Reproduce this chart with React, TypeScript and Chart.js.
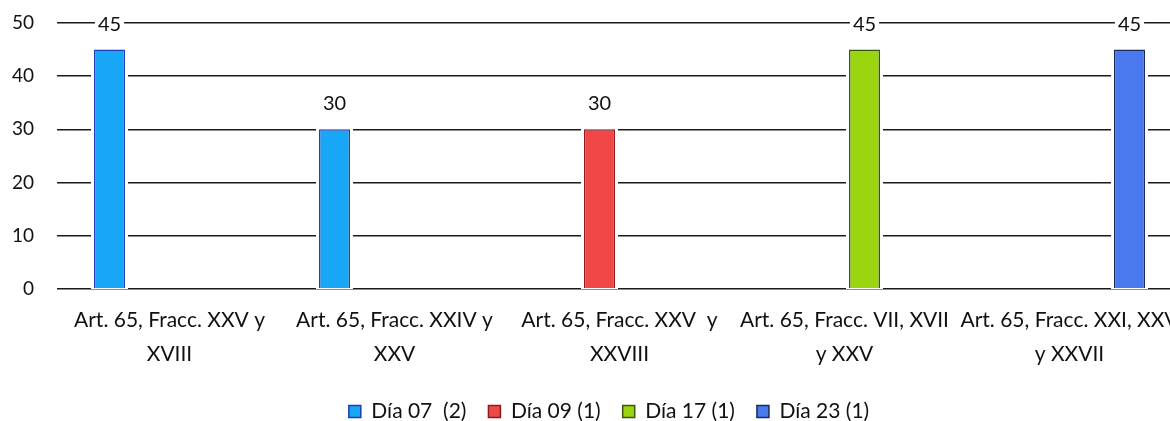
import React, { useEffect, useRef } from "react";
import { Chart, registerables } from "chart.js";

Chart.register(...registerables);

const categories: string[][] = [
  ["Art. 65, Fracc. XXV y", "XVIII"],
  ["Art. 65, Fracc. XXIV y", "XXV"],
  ["Art. 65, Fracc. XXV  y", "XXVIII"],
  ["Art. 65, Fracc. VII, XVII", "y XXV"],
  ["Art. 65, Fracc. XXI, XXV", "y XXVII"],
];

const seriesNames = ["Día 07  (2)", "Día 09 (1)", "Día 17 (1)", "Día 23 (1)"];
const dia07 = [45, 30, null, null, null];
const dia09 = [null, null, 30, null, null];
const dia17 = [null, null, null, 45, null];
const dia23 = [null, null, null, null, 45];

const yTicks = [0, 10, 20, 30, 40, 50];

const fills = ["#18a6f6", "#f24747", "#9bd50f", "#4a79ee"];
const borders = ["#1d3fb5", "#8e1b1b", "#3b5512", "#1b2a5e"];

const FONT = "Lato, 'Open Sans', sans-serif";

const barDecor = {
  id: "barDecor",
  afterLayout(chart: any) {
    const lg = chart.legend;
    if (lg) {
      lg.top += 1;
      lg.bottom += 1;
      lg.left += 18;
      lg.right += 18;
    }
  },
  beforeDatasetsDraw(chart: any) {
    const ctx = chart.ctx;
    ctx.save();
    ctx.fillStyle = "#ffffff";
    chart.data.datasets.forEach((ds: any, i: number) => {
      const meta = chart.getDatasetMeta(i);
      meta.data.forEach((el: any, j: number) => {
        if (ds.data[j] == null) return;
        const w = el.width;
        ctx.fillRect(el.x - w / 2 - 3, el.y - 2, w + 6, el.base - el.y + 3);
      });
    });
    ctx.restore();
  },
  afterDatasetsDraw(chart: any) {
    const ctx = chart.ctx;
    ctx.save();
    ctx.font = `20px ${FONT}`;
    ctx.textAlign = "center";
    ctx.textBaseline = "middle";
    chart.data.datasets.forEach((ds: any, i: number) => {
      const meta = chart.getDatasetMeta(i);
      meta.data.forEach((el: any, j: number) => {
        const v = ds.data[j];
        if (v == null) return;
        const txt = String(v);
        const tw = ctx.measureText(txt).width;
        const cy = el.y - 25.5;
        ctx.fillStyle = "#ffffff";
        ctx.fillRect(el.x - tw / 2 - 3, cy - 9, tw + 6, 18);
        ctx.fillStyle = "#111111";
        ctx.fillText(txt, el.x, cy);
      });
    });
    ctx.restore();
  },
};

export default function App() {
  const canvasRef = useRef<HTMLCanvasElement | null>(null);

  useEffect(() => {
    document.body.style.margin = "0";
    const canvas = canvasRef.current;
    if (!canvas) return;
    const datasets = [dia07, dia09, dia17, dia23].map((d, i) => ({
      label: seriesNames[i],
      data: d,
      backgroundColor: fills[i],
      borderColor: borders[i],
      borderWidth: 1.5,
      categoryPercentage: 0.711,
      barPercentage: 0.775,
    }));
    const chart = new Chart(canvas, {
      type: "bar",
      data: { labels: categories, datasets },
      plugins: [barDecor],
      options: {
        animation: false,
        responsive: true,
        maintainAspectRatio: false,
        layout: { padding: { left: 0, right: 26, top: 23, bottom: -10 } },
        plugins: {
          tooltip: { enabled: false },
          legend: {
            position: "bottom",
            labels: {
              boxWidth: 12,
              boxHeight: 12,
              padding: 22,
              color: "#111111",
              font: { family: FONT, size: 21 },
            },
          },
        },
        scales: {
          x: {
            grid: { display: false },
            border: { display: false },
            ticks: {
              color: "#111111",
              padding: 7,
              maxRotation: 0,
              autoSkip: false,
              font: { family: FONT, size: 21, lineHeight: 1.6 },
            },
          },
          y: {
            min: 0,
            max: 50,
            afterFit(scale: any) {
              scale.width = 57;
            },
            afterBuildTicks(scale: any) {
              scale.ticks = yTicks.map((v) => ({ value: v }));
            },
            grid: {
              color: "#1a1a1a",
              lineWidth: 1.6,
              drawTicks: true,
              tickLength: 23,
              tickColor: "rgba(0,0,0,0)",
            },
            border: { display: false },
            ticks: {
              color: "#111111",
              padding: 0,
              font: { family: FONT, size: 19 },
            },
          },
        },
      },
    });
    return () => chart.destroy();
  }, []);

  return (
    <div style={{ position: "fixed", left: 0, top: 0, width: 1170, height: 421, overflow: "hidden", background: "#fff" }}>
      <div style={{ position: "relative", width: 1208, height: 421 }}>
        <canvas ref={canvasRef} />
      </div>
    </div>
  );
}
